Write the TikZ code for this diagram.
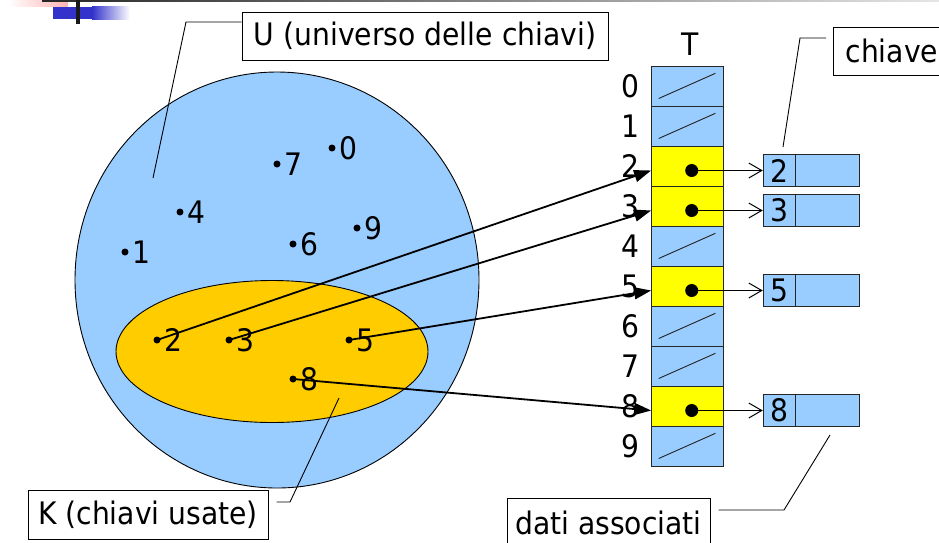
\documentclass[tikz,border=0pt]{standalone}
\usepackage{fontspec}
\setmainfont[FakeStretch=0.91]{DejaVu Sans}
\usetikzlibrary{arrows.meta,shapes.geometric,calc}
\definecolor{ublue}{RGB}{153,204,255}
\definecolor{kyel}{RGB}{255,204,0}
\definecolor{cyel}{RGB}{255,255,0}
\definecolor{decoblue}{RGB}{51,51,204}
\begin{document}
\begin{tikzpicture}[x=1pt,y=-1pt,
  lab/.style={font=\fontsize{31}{36}\selectfont, inner sep=0pt},
  setdot/.style={circle, fill=black, inner sep=0pt, minimum size=7pt},
  celldot/.style={circle, fill=black, inner sep=0pt, minimum size=13pt},
  cell/.style={draw=black!85, line width=1.2pt, minimum width=72pt, minimum height=40pt, inner sep=0pt},
  keybox/.style={draw=black!85, line width=1.1pt, fill=ublue, minimum width=32.4pt, minimum height=32pt, inner sep=0pt, font=\fontsize{31}{36}\selectfont},
  databox/.style={draw=black!85, line width=1.1pt, fill=ublue, minimum width=64pt, minimum height=32pt, inner sep=0pt},
  callbox/.style={draw=black, line width=1pt, fill=white, inner sep=0pt, font=\fontsize{31}{36}\selectfont},
  callout/.style={draw=black, line width=0.9pt},
  bigarrow/.style={draw=black, line width=1.8pt, -{Triangle[length=17pt,width=12pt]}},
  smallarrow/.style={draw=black, line width=1pt, -{Straight Barb[length=13pt,width=15pt,line width=1pt]}},
  slash/.style={draw=black!85, line width=0.9pt}]
\useasboundingbox (0,0) rectangle (939,542);
% top decoration
\shade[left color=white, right color=red!30] (8,0) rectangle (68,6.7);
\shade[left color=black!85, right color=black!10] (42,0) rectangle (939,1.5);
\fill[decoblue] (53,6.7) rectangle (92,19);
\shade[left color=decoblue, right color=white] (92,6.7) rectangle (130,19);
\fill[black!90] (76,0) rectangle (80,24);
% sets
\node[draw=black, line width=0.9pt, ellipse, fill=ublue, inner sep=0pt, minimum width=404pt, minimum height=416pt] (Uset) at (277,280) {};
\node[draw=black, line width=0.9pt, ellipse, fill=kyel, inner sep=0pt, minimum width=312pt, minimum height=142pt] (Kset) at (272,351.5) {};
% keys in the sets
\foreach \n/\x/\y in {0/332/148, 7/277/164, 4/180/212, 9/357/228, 6/293/244, 1/125/252, 2/157/340, 3/229/340, 5/349/340, 8/293/379} {
  \node[setdot] (p\n) at (\x,\y) {};
  \node[lab] (l\n) at (\x+16,\y) {\n};
}
% table T
\node[lab] (T) at (690,44) {T};
\foreach \k in {0,1,4,6,7,9} {
  \node[cell, fill=ublue] (c\k) at (687.7,86.3+40*\k) {};
}
\foreach \k in {2,3,5,8} {
  \node[cell, fill=cyel] (c\k) at (687.7,86.3+40*\k) {};
}
\foreach \k in {0,...,9} {
  \node[lab] (i\k) at (630,86.3+40*\k) {\k};
}
\foreach \k in {0,1,4,6,7,9} {
  \draw[slash] ($(c\k.south west)+(7.6,-8.4)$) -- ($(c\k.north west)+(64.3,7.6)$);
}
\foreach \k in {2,3,5,8} {
  \node[celldot] (d\k) at (691.7,90.5+40*\k) {};
  \node[keybox] (k\k) at (779.5,90.5+40*\k) {\k};
  \node[databox] (v\k) at (827.7,90.5+40*\k) {};
  \draw[smallarrow] (d\k.center) -- (k\k.west);
  \draw[bigarrow] (p\k.center) -- (c\k.west |- d\k);
}
% callout boxes
\node[callbox, minimum width=366pt, minimum height=48pt] (ubox) at (425,36) {U (universo delle chiavi)};
\coordinate (ua) at (186,22);
\coordinate (ub) at (153,178);
\draw[callout] (ubox.west |- ua) -- (ua) -- (ub);
\node[callbox, anchor=west, minimum height=48pt, inner xsep=12pt] (cbox) at (833,51) {chiave};
\coordinate (ca) at (800,38);
\coordinate (cb) at (783,147);
\draw[callout] ([xshift=-7pt]cbox.west |- ca) -- (ca) -- (cb);
\node[callbox, minimum width=203pt, minimum height=50pt] (dbox) at (608.5,523) {dati associati};
\coordinate (da) at (784,510);
\coordinate (db) at (830,435);
\draw[callout] (db) -- (da) -- ([xshift=8pt]dbox.east |- da);
\node[callbox, minimum width=240pt, minimum height=49pt] (kbox) at (148,514.5) {K (chiavi usate)};
\coordinate (ka) at (290,502);
\coordinate (kb) at (339,398);
\draw[callout] ([xshift=8pt]kbox.east |- ka) -- (ka) -- (kb);
\end{tikzpicture}
\end{document}
